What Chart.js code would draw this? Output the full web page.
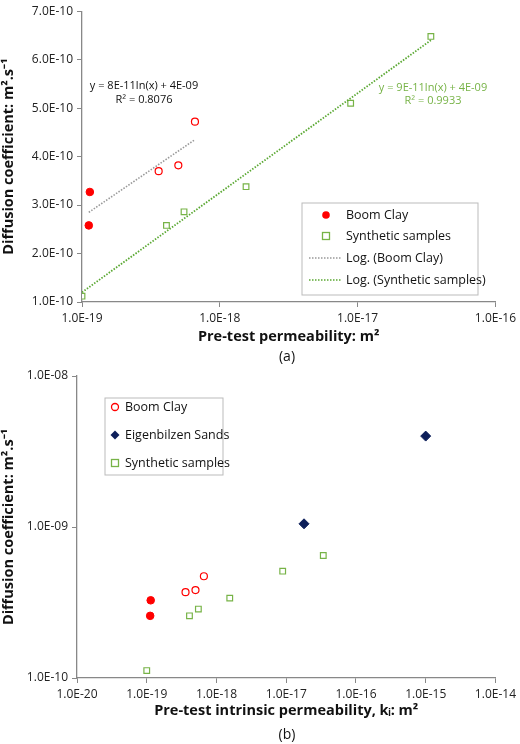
<!DOCTYPE html>
<html><head><meta charset="utf-8">
<script src="https://cdn.jsdelivr.net/npm/chart.js@4/dist/chart.umd.min.js"></script>
<style>body{margin:0;background:#fff;width:520px;height:744px;position:relative;overflow:hidden}
.c{position:absolute;left:0}</style></head><body>
<div class="c" style="top:0;width:520px;height:370px"><canvas id="a"></canvas></div>
<div class="c" style="top:360px;width:520px;height:384px"><canvas id="b"></canvas></div>
<script>
// data
const boomFilledX=[1.14e-19,1.12e-19];
const boomFilledY=[3.27e-10,2.58e-10];
const boomOpenX=[3.6e-19,5.0e-19,6.6e-19];
const boomOpenY=[3.70e-10,3.82e-10,4.72e-10];
const synthX=[1.0e-19,4.1e-19,5.5e-19,1.55e-18,8.9e-18,3.4e-17];
const synthY=[1.12e-10,2.58e-10,2.86e-10,3.38e-10,5.10e-10,6.48e-10];
const eigenX=[1.8e-17,1.0e-15];
const eigenY=[1.05e-9,4.0e-9];
const boomTrendX=[1.12e-19,6.6e-19];
const boomTrendY=[2.85e-10,4.35e-10];
const synthTrendX=[1.0e-19,3.4e-17];
const synthTrendY=[1.2e-10,6.4e-10];
const xTicksA=[1e-19,1e-18,1e-17,1e-16];
const yTicksA=[1e-10,2e-10,3e-10,4e-10,5e-10,6e-10,7e-10];
const xTicksB=[1e-20,1e-19,1e-18,1e-17,1e-16,1e-15,1e-14];
const yTicksB=[1e-10,1e-9,1e-8];

const RED='#ff0000',GREEN='#77b347',NAVY='#0d1f5a';
const pts=(xs,ys)=>xs.map((x,i)=>({x,y:ys[i]}));
const fmt=v=>Number(v).toExponential(1).toUpperCase().replace(/E([+-])(\d)$/,'E$10$2');
const F="'Open Sans', sans-serif";
Chart.defaults.font.family=F;Chart.defaults.color='#222';
function axis(type,min,max,ticks,title,fixed,isY){
 return {type,min,max,
  afterBuildTicks:s=>{s.ticks=ticks.map(v=>({value:v}));},
  afterFit:s=>{if(isY)s.width=fixed;else s.height=fixed;},
  ticks:{callback:fmt,font:{size:12},color:'#222',autoSkip:false,maxRotation:0,padding:4},
  grid:{display:true,drawOnChartArea:false,tickLength:5,color:'#888'},
  border:{display:true,color:'#888',width:1.3},
  title:{display:true,text:title,font:{size:14.5,weight:'bold'},color:'#111',padding:isY?{top:0,bottom:4}:{top:2}}};
}
function legendPlugin(box,items){return{id:'lg',afterDraw(c){const x=c.ctx;x.save();
 x.fillStyle='#fff';x.strokeStyle='#bbb';x.lineWidth=1;x.fillRect(...box);x.strokeRect(...box);
 x.font="12.5px "+F;x.textBaseline='middle';
 items.forEach((it,i)=>{const yy=box[1]+it.dy;const mx=box[0]+it.mx;
  x.strokeStyle=it.c;x.fillStyle=it.c;x.lineWidth=1.3;
  if(it.t==='line'){x.setLineDash([1.5,1.5]);x.lineWidth=1.6;x.beginPath();x.moveTo(box[0]+7,yy);x.lineTo(box[0]+40,yy);x.stroke();x.setLineDash([]);}
  else if(it.t==='dot'){x.beginPath();x.arc(mx,yy,3.8,0,7);x.fill();}
  else if(it.t==='ring'){x.beginPath();x.arc(mx,yy,3.5,0,7);x.stroke();}
  else if(it.t==='sq'){x.strokeRect(mx-3.5,yy-3.5,7,7);}
  else if(it.t==='dia'){x.beginPath();x.moveTo(mx,yy-4.5);x.lineTo(mx+4.5,yy);x.lineTo(mx,yy+4.5);x.lineTo(mx-4.5,yy);x.closePath();x.fill();}
  x.fillStyle='#111';x.fillText(it.s,box[0]+it.tx,yy);});
 x.restore();}}}
function textPlugin(lines){return{id:'tx',afterDraw(c){const x=c.ctx;x.save();x.textAlign='center';x.textBaseline='middle';
 lines.forEach(l=>{x.font=(l.b?'bold ':'')+l.f+"px "+F;x.fillStyle=l.c;
  const px=l.abs?l.x:c.scales.x.getPixelForValue(l.x);const py=l.abs?l.y:c.scales.y.getPixelForValue(l.y);x.fillText(l.s,px,py);});x.restore();}}}

new Chart(document.getElementById('a'),{type:'scatter',
 data:{datasets:[
  {data:pts(boomTrendX,boomTrendY),showLine:true,borderColor:'#999',borderDash:[1.5,1.5],borderWidth:1.6,pointRadius:0},
  {data:pts(synthTrendX,synthTrendY),showLine:true,borderColor:'#5aa832',borderDash:[1.5,1.5],borderWidth:1.8,pointRadius:0},
  {data:pts(boomFilledX,boomFilledY),pointStyle:'circle',pointRadius:3.8,backgroundColor:RED,borderColor:RED},
  {data:pts(boomOpenX,boomOpenY),pointStyle:'circle',pointRadius:3.5,backgroundColor:'#fff',borderColor:RED,borderWidth:1.2},
  {data:pts(synthX,synthY),pointStyle:'rect',pointRadius:4,backgroundColor:'#fff',borderColor:GREEN,borderWidth:1.2}]},
 options:{responsive:true,maintainAspectRatio:false,animation:false,layout:{padding:{left:0,right:20,top:5,bottom:20}},
  plugins:{legend:{display:false},tooltip:{enabled:false}},
  scales:{x:axis('logarithmic',1e-19,1e-16,xTicksA,'Pre-test permeability: m²',48,false),
          y:axis('linear',1e-10,7e-10,yTicksA,'Diffusion coefficient: m².s⁻¹',82,true)}},
 plugins:[legendPlugin([302,203,176,92],[
   {t:'dot',c:RED,mx:24,dy:12,tx:44,s:'Boom Clay'},
   {t:'sq',c:GREEN,mx:24,dy:33,tx:44,s:'Synthetic samples'},
   {t:'line',c:'#999',dy:55,tx:44,s:'Log. (Boom Clay)'},
   {t:'line',c:'#5aa832',dy:77,tx:44,s:'Log. (Synthetic samples)'}]),
  textPlugin([
   {abs:1,x:144,y:86,s:'y = 8E-11ln(x) + 4E-09',f:11,c:'#111'},
   {abs:1,x:144,y:100,s:'R² = 0.8076',f:11,c:'#111'},
   {abs:1,x:433,y:88,s:'y = 9E-11ln(x) + 4E-09',f:11,c:GREEN},
   {abs:1,x:433,y:101,s:'R² = 0.9933',f:11,c:GREEN},
   {abs:1,x:287,y:357,s:'(a)',f:14,c:'#111'}])]});

new Chart(document.getElementById('b'),{type:'scatter',
 data:{datasets:[
  {data:pts(boomFilledX,boomFilledY),pointStyle:'circle',pointRadius:3.8,backgroundColor:RED,borderColor:RED},
  {data:pts(boomOpenX,boomOpenY),pointStyle:'circle',pointRadius:3.5,backgroundColor:'#fff',borderColor:RED,borderWidth:1.2},
  {data:pts(eigenX,eigenY),pointStyle:'rectRot',pointRadius:5,backgroundColor:NAVY,borderColor:NAVY},
  {data:pts(synthX,synthY),pointStyle:'rect',pointRadius:4,backgroundColor:'#fff',borderColor:GREEN,borderWidth:1.2}]},
 options:{responsive:true,maintainAspectRatio:false,animation:false,layout:{padding:{left:0,right:20,top:16,bottom:20}},
  plugins:{legend:{display:false},tooltip:{enabled:false}},
  scales:{x:axis('logarithmic',1e-20,1e-14,xTicksB,'Pre-test intrinsic permeability, kᵢ: m²',46,false),
          y:axis('logarithmic',1e-10,1e-8,yTicksB,'Diffusion coefficient: m².s⁻¹',77,true)}},
 plugins:[legendPlugin([105,38,118,77],[
   {t:'ring',c:RED,mx:10,dy:9,tx:20,s:'Boom Clay'},
   {t:'dia',c:NAVY,mx:10,dy:37,tx:20,s:'Eigenbilzen Sands'},
   {t:'sq',c:GREEN,mx:10,dy:65,tx:20,s:'Synthetic samples'}]),
  textPlugin([{abs:1,x:287,y:375,s:'(b)',f:14,c:'#111'}])]});
</script></body></html>
